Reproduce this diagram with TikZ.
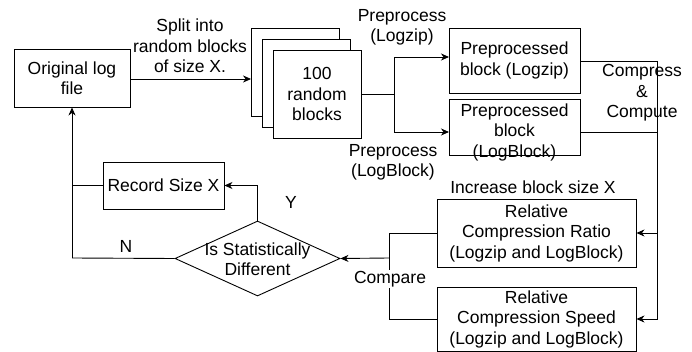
\documentclass[tikz,border=0pt]{standalone}
\usepackage{fontspec}
\setmainfont{Liberation Sans}
\usetikzlibrary{arrows.meta,shapes.geometric}

\begin{document}
\begin{tikzpicture}[x=1pt,y=-1pt,
  every node/.style={font=\fontsize{17.5}{20.5}\selectfont},
  box/.style={draw, line width=0.9pt, fill=white, inner sep=0pt, align=center},
  lbl/.style={align=center, inner sep=1pt},
  wire/.style={line width=0.9pt},
  arr/.style={wire, -{Stealth[length=8pt,width=7pt,inset=2.5pt]}}
]
\useasboundingbox (0,0) rectangle (692,352);

% source file
\node[box, minimum width=116pt, minimum height=58pt] (orig) at (72,78) {Original log\\file};

% stack of random blocks
\node[box, minimum width=88pt, minimum height=88pt] (back) at (295.5,72) {};
\node[box, minimum width=88pt, minimum height=88pt] (mid) at (306.5,83) {};
\node[box, minimum width=88pt, minimum height=88pt] (front) at (317,94) {100\\random\\blocks};

% preprocessed blocks
\node[box, minimum width=131pt, minimum height=65pt] (lz) at (514.5,60.5) {Preprocessed\\block (Logzip)};
\node[box, minimum width=131pt, minimum height=56pt] (lb) at (514.5,127) {};
\node[lbl] (lbtext) at (514.5,132) {Preprocessed\\block\\(LogBlock)};

% relative measures
\node[box, minimum width=199pt, minimum height=68pt] (ratio) at (536.5,233) {Relative\\Compression Ratio\\(Logzip and LogBlock)};
\node[box, minimum width=199pt, minimum height=64pt] (speed) at (536.5,319) {Relative\\Compression Speed\\(Logzip and LogBlock)};

% decision and record
\node[draw, line width=0.9pt, diamond, minimum width=165pt, minimum height=75pt, inner sep=0pt] (dec) at (257.5,258.5) {};
\node[lbl] (dectext) at (257.5,259) {Is Statistically\\Different};
\node[box, minimum width=121pt, minimum height=47pt] (rec) at (163.5,185.5) {Record Size X};

% routing points
\coordinate (split) at (394,94);
\coordinate (lzin) at (449,57);
\coordinate (lbin) at (449,132);
\coordinate (bus) at (657,61);
\coordinate (cmp) at (389,258);
\coordinate (nret) at (72,258);

% connectors
\draw[arr] (orig.east |- 0,79) -- (back.west |- 0,79);
\draw[wire] (front.east) -- (split);
\draw[arr] (split) |- (lzin);
\draw[arr] (split) |- (lbin);
\draw[wire] (lz.east |- bus) -- (bus);
\draw[arr] (bus) |- (speed.east);
\draw[wire] (lb.east |- 0,132) -- (657,132);
\draw[arr] (657,233) -- (ratio.east);
\draw[wire] (ratio.west) -| (speed.west -| cmp) -- (speed.west);
\draw[arr] (cmp) -- (dec.east);
\draw[arr] (dec.north) |- (rec.east);
\draw[wire] (dec.west) -- (nret);
\draw[arr] (nret) -- (orig.south);
\draw[wire] (rec.west) -- (72,185.5);

% labels
\node[lbl] (lsplit) at (190,46) {Split into\\random blocks\\of size X.};
\node[lbl] (lpz) at (402,27.5) {Preprocess\\(Logzip)};
\node[lbl] (lpb) at (393,162.5) {Preprocess\\(LogBlock)};
\node[lbl] (lcc) at (642,93) {Compress\\\&\\Compute};
\node[lbl] (linc) at (533,187) {Increase block size X};
\node[lbl, fill=white] (lcmp) at (390,279) {Compare};
\node[lbl] (ly) at (291,202) {Y};
\node[lbl] (ln) at (126,246) {N};
\end{tikzpicture}
\end{document}
